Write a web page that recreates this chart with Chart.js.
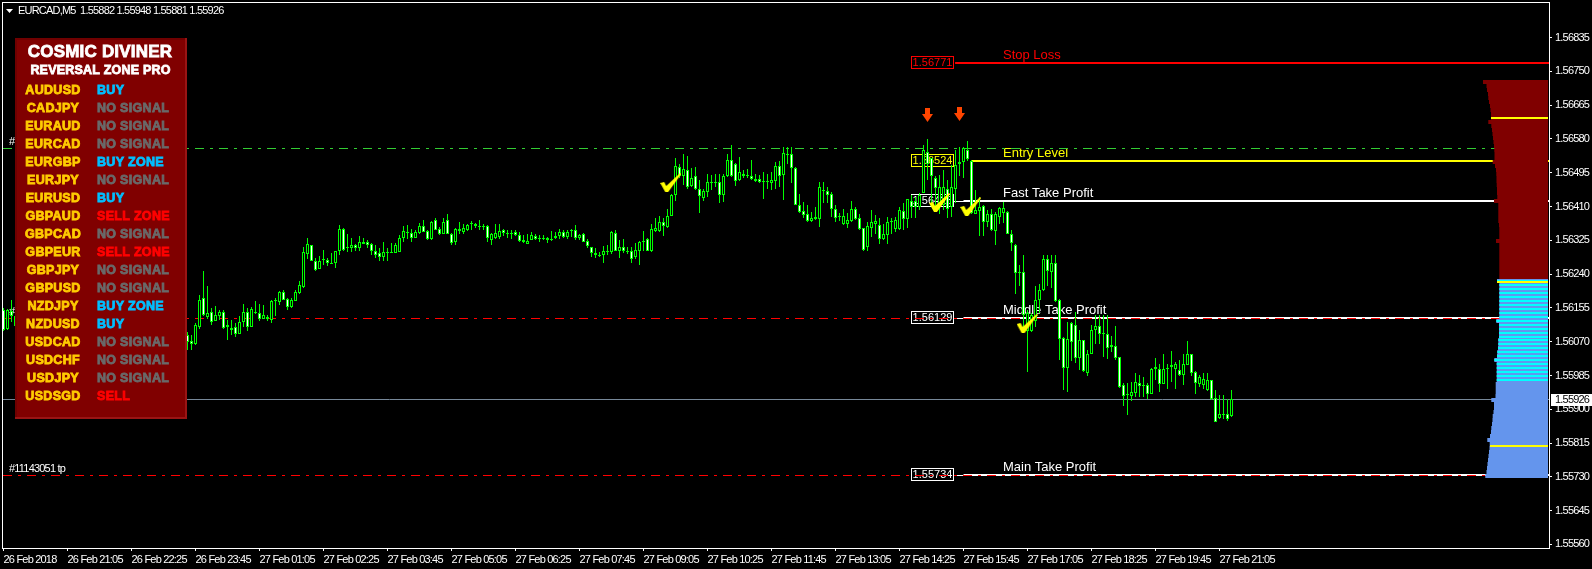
<!DOCTYPE html>
<html>
<head>
<meta charset="utf-8">
<title>EURCAD,M5</title>
<script src="https://cdn.jsdelivr.net/npm/chart.js@4"></script>
<style>
  html, body { margin: 0; padding: 0; background: #000; }
  canvas { display: block; }
</style>
</head>
<body>
<canvas id="myChart" width="1592" height="569"></canvas>
<script>
// bars 4 to 45 sit behind the signal panel, so they stay empty
const hiddenBars = Array(42).fill(null);

const opens = [1.56149,1.56101,1.56147,1.56109, ...hiddenBars,
  1.56088,1.56071,1.56064,1.56108,1.56179,1.56133,1.56144,1.56123,1.56134,1.56144,
  1.56107,1.56100,1.56106,1.56090,1.56120,1.56144,1.56108,1.56141,1.56143,1.56128,
  1.56133,1.56125,1.56175,1.56170,1.56196,1.56177,1.56158,1.56173,1.56193,1.56208,
  1.56290,1.56312,1.56274,1.56253,1.56275,1.56276,1.56268,1.56269,1.56297,1.56353,
  1.56306,1.56306,1.56312,1.56306,1.56322,1.56322,1.56315,1.56299,1.56292,1.56284,
  1.56292,1.56294,1.56293,1.56296,1.56331,1.56345,1.56344,1.56332,1.56343,1.56361,
  1.56349,1.56328,1.56375,1.56354,1.56341,1.56375,1.56342,1.56321,1.56349,1.56347,
  1.56350,1.56365,1.56367,1.56358,1.56360,1.56362,1.56326,1.56331,1.56334,1.56352,
  1.56342,1.56342,1.56345,1.56339,1.56327,1.56316,1.56326,1.56336,1.56330,1.56329,
  1.56332,1.56327,1.56331,1.56336,1.56345,1.56334,1.56348,1.56352,1.56330,1.56342,
  1.56323,1.56307,1.56294,1.56287,1.56287,1.56298,1.56296,1.56344,1.56298,1.56309,
  1.56297,1.56297,1.56282,1.56299,1.56323,1.56329,1.56298,1.56349,1.56349,1.56370,
  1.56359,1.56386,1.56438,1.56510,1.56487,1.56503,1.56462,1.56486,1.56453,1.56432,
  1.56447,1.56468,1.56470,1.56471,1.56440,1.56487,1.56527,1.56517,1.56476,1.56493,
  1.56487,1.56488,1.56479,1.56479,1.56472,1.56472,1.56470,1.56475,1.56513,1.56489,
  1.56539,1.56542,1.56508,1.56415,1.56398,1.56390,1.56373,1.56378,1.56378,1.56449,
  1.56448,1.56441,1.56405,1.56383,1.56366,1.56366,1.56374,1.56405,1.56380,1.56355,
  1.56309,1.56356,1.56367,1.56363,1.56328,1.56339,1.56372,1.56353,1.56353,1.56400,
  1.56378,1.56424,1.56424,1.56408,1.56445,1.56546,1.56531,1.56483,1.56408,1.56415,
  1.56453,1.56409,1.56455,1.56517,1.56523,1.56553,1.56525,1.56392,1.56398,1.56411,
  1.56371,1.56391,1.56349,1.56384,1.56394,1.56397,1.56342,1.56314,1.56243,1.56246,
  1.56097,1.56097,1.56122,1.56174,1.56199,1.56277,1.56246,1.56267,1.56176,1.56080,
  1.56004,1.56116,1.56111,1.56029,1.56073,1.55992,1.56040,1.56100,1.56109,1.56090,
  1.56090,1.56057,1.56060,1.56031,1.55960,1.55937,1.55934,1.55940,1.55967,1.55960,
  1.55960,1.55939,1.56001,1.56002,1.55964,1.56001,1.56006,1.56002,1.56000,1.55986,
  1.56012,1.56038,1.55993,1.55963,1.55960,1.55949,1.55973,1.55929,1.55879,1.55887,1.55887,1.55882];

const highs = [1.56154,1.56152,1.56174,1.56139, ...hiddenBars,
  1.56095,1.56087,1.56116,1.56187,1.56248,1.56210,1.56154,1.56160,1.56149,1.56149,
  1.56124,1.56124,1.56116,1.56134,1.56166,1.56154,1.56158,1.56172,1.56165,1.56162,
  1.56137,1.56175,1.56181,1.56197,1.56201,1.56181,1.56181,1.56200,1.56222,1.56307,
  1.56331,1.56313,1.56280,1.56285,1.56300,1.56281,1.56294,1.56297,1.56363,1.56355,
  1.56341,1.56332,1.56316,1.56336,1.56332,1.56326,1.56317,1.56313,1.56305,1.56320,
  1.56305,1.56317,1.56317,1.56338,1.56360,1.56363,1.56353,1.56352,1.56369,1.56375,
  1.56350,1.56373,1.56380,1.56359,1.56380,1.56391,1.56344,1.56356,1.56370,1.56365,
  1.56367,1.56373,1.56369,1.56375,1.56367,1.56363,1.56344,1.56365,1.56365,1.56354,
  1.56352,1.56350,1.56350,1.56346,1.56338,1.56340,1.56346,1.56342,1.56338,1.56338,
  1.56334,1.56348,1.56346,1.56353,1.56350,1.56352,1.56354,1.56363,1.56342,1.56344,
  1.56328,1.56308,1.56306,1.56296,1.56310,1.56313,1.56348,1.56350,1.56325,1.56328,
  1.56308,1.56308,1.56317,1.56323,1.56348,1.56331,1.56365,1.56380,1.56386,1.56380,
  1.56405,1.56441,1.56531,1.56518,1.56541,1.56537,1.56506,1.56510,1.56476,1.56455,
  1.56493,1.56489,1.56492,1.56493,1.56493,1.56541,1.56566,1.56520,1.56534,1.56502,
  1.56504,1.56528,1.56493,1.56489,1.56496,1.56493,1.56497,1.56523,1.56525,1.56559,
  1.56559,1.56559,1.56509,1.56441,1.56422,1.56414,1.56397,1.56409,1.56472,1.56472,
  1.56458,1.56447,1.56414,1.56393,1.56405,1.56393,1.56424,1.56409,1.56391,1.56356,
  1.56372,1.56401,1.56388,1.56380,1.56365,1.56384,1.56380,1.56384,1.56409,1.56418,
  1.56430,1.56439,1.56435,1.56443,1.56565,1.56581,1.56532,1.56487,1.56489,1.56502,
  1.56476,1.56514,1.56552,1.56559,1.56559,1.56575,1.56527,1.56451,1.56435,1.56414,
  1.56402,1.56405,1.56397,1.56409,1.56422,1.56399,1.56350,1.56315,1.56262,1.56288,
  1.56149,1.56141,1.56210,1.56215,1.56289,1.56288,1.56288,1.56288,1.56178,1.56082,
  1.56120,1.56120,1.56145,1.56099,1.56074,1.56048,1.56111,1.56137,1.56137,1.56137,
  1.56137,1.56084,1.56109,1.56032,1.55965,1.55965,1.55969,1.55992,1.55986,1.55981,
  1.55965,1.56004,1.56030,1.56015,1.56038,1.56015,1.56046,1.56019,1.56023,1.56038,
  1.56071,1.56039,1.55996,1.55985,1.55990,1.55991,1.55974,1.55948,1.55935,1.55935,1.55927,1.55948];

const lows = [1.56096,1.56099,1.56119,1.56096, ...hiddenBars,
  1.56049,1.56049,1.56061,1.56101,1.56134,1.56127,1.56112,1.56122,1.56124,1.56102,
  1.56074,1.56087,1.56082,1.56089,1.56108,1.56097,1.56106,1.56139,1.56123,1.56126,
  1.56123,1.56118,1.56135,1.56162,1.56175,1.56149,1.56156,1.56172,1.56191,1.56205,
  1.56277,1.56273,1.56248,1.56252,1.56263,1.56261,1.56268,1.56256,1.56288,1.56299,
  1.56296,1.56296,1.56299,1.56299,1.56315,1.56305,1.56288,1.56280,1.56274,1.56274,
  1.56274,1.56294,1.56292,1.56296,1.56321,1.56329,1.56321,1.56331,1.56342,1.56346,
  1.56327,1.56327,1.56350,1.56338,1.56340,1.56340,1.56313,1.56313,1.56342,1.56342,
  1.56349,1.56350,1.56357,1.56352,1.56350,1.56321,1.56313,1.56329,1.56329,1.56335,
  1.56332,1.56329,1.56335,1.56321,1.56317,1.56315,1.56325,1.56325,1.56321,1.56325,
  1.56318,1.56324,1.56329,1.56329,1.56331,1.56329,1.56334,1.56325,1.56325,1.56320,
  1.56306,1.56283,1.56280,1.56283,1.56268,1.56287,1.56290,1.56298,1.56281,1.56292,
  1.56290,1.56268,1.56279,1.56262,1.56297,1.56298,1.56296,1.56346,1.56346,1.56335,
  1.56356,1.56385,1.56424,1.56483,1.56464,1.56455,1.56460,1.56451,1.56394,1.56424,
  1.56435,1.56451,1.56460,1.56419,1.56422,1.56485,1.56485,1.56461,1.56475,1.56481,
  1.56481,1.56476,1.56472,1.56468,1.56429,1.56453,1.56451,1.56455,1.56460,1.56426,
  1.56518,1.56468,1.56413,1.56394,1.56380,1.56372,1.56372,1.56376,1.56359,1.56418,
  1.56418,1.56383,1.56372,1.56374,1.56363,1.56357,1.56372,1.56376,1.56351,1.56299,
  1.56298,1.56334,1.56342,1.56315,1.56325,1.56315,1.56342,1.56346,1.56352,1.56351,
  1.56355,1.56380,1.56380,1.56401,1.56443,1.56476,1.56414,1.56405,1.56391,1.56401,
  1.56380,1.56384,1.56418,1.56487,1.56481,1.56524,1.56391,1.56391,1.56336,1.56335,
  1.56359,1.56349,1.56313,1.56366,1.56369,1.56340,1.56298,1.56189,1.56210,1.56095,
  1.55994,1.56095,1.56107,1.56141,1.56198,1.56210,1.56204,1.56170,1.56025,1.55948,
  1.55944,1.56022,1.56017,1.56000,1.55994,1.55983,1.56038,1.56064,1.56065,1.56032,
  1.56027,1.56044,1.56023,1.55954,1.55908,1.55885,1.55921,1.55931,1.55931,1.55931,
  1.55927,1.55938,1.55973,1.55944,1.55963,1.55952,1.55969,1.55950,1.55984,1.55960,
  1.56011,1.55984,1.55938,1.55956,1.55952,1.55946,1.55924,1.55867,1.55876,1.55876,1.55871,1.55881];

const closes = [1.56099,1.56149,1.56134,1.56134, ...hiddenBars,
  1.56070,1.56064,1.56111,1.56176,1.56137,1.56143,1.56120,1.56136,1.56145,1.56105,
  1.56112,1.56104,1.56089,1.56119,1.56144,1.56108,1.56151,1.56144,1.56128,1.56136,
  1.56126,1.56172,1.56176,1.56194,1.56176,1.56158,1.56175,1.56194,1.56212,1.56295,
  1.56315,1.56274,1.56250,1.56274,1.56277,1.56268,1.56269,1.56297,1.56353,1.56300,
  1.56307,1.56312,1.56306,1.56320,1.56316,1.56314,1.56299,1.56288,1.56284,1.56295,
  1.56295,1.56295,1.56312,1.56332,1.56349,1.56346,1.56331,1.56347,1.56361,1.56347,
  1.56328,1.56372,1.56352,1.56340,1.56372,1.56341,1.56318,1.56354,1.56353,1.56355,
  1.56363,1.56368,1.56360,1.56360,1.56362,1.56331,1.56342,1.56343,1.56349,1.56344,
  1.56343,1.56343,1.56339,1.56323,1.56321,1.56324,1.56339,1.56328,1.56332,1.56332,
  1.56326,1.56329,1.56337,1.56345,1.56333,1.56345,1.56350,1.56331,1.56339,1.56321,
  1.56311,1.56293,1.56288,1.56289,1.56297,1.56299,1.56345,1.56299,1.56307,1.56297,
  1.56298,1.56278,1.56300,1.56322,1.56324,1.56299,1.56354,1.56357,1.56372,1.56360,
  1.56387,1.56440,1.56511,1.56487,1.56505,1.56460,1.56482,1.56453,1.56437,1.56448,
  1.56471,1.56471,1.56471,1.56439,1.56487,1.56527,1.56487,1.56475,1.56496,1.56488,
  1.56489,1.56478,1.56474,1.56472,1.56474,1.56474,1.56476,1.56513,1.56488,1.56544,
  1.56542,1.56508,1.56414,1.56397,1.56389,1.56373,1.56380,1.56383,1.56458,1.56451,
  1.56440,1.56404,1.56382,1.56385,1.56387,1.56377,1.56403,1.56378,1.56353,1.56300,
  1.56361,1.56372,1.56374,1.56328,1.56340,1.56372,1.56374,1.56376,1.56401,1.56379,
  1.56428,1.56409,1.56409,1.56438,1.56552,1.56518,1.56487,1.56457,1.56458,1.56458,
  1.56405,1.56458,1.56514,1.56523,1.56556,1.56529,1.56394,1.56401,1.56410,1.56371,
  1.56391,1.56350,1.56391,1.56406,1.56406,1.56342,1.56317,1.56243,1.56246,1.56137,
  1.56141,1.56137,1.56176,1.56199,1.56278,1.56247,1.56269,1.56173,1.56078,1.56004,
  1.56076,1.56069,1.56029,1.56075,1.55996,1.56040,1.56099,1.56109,1.56090,1.56091,
  1.56054,1.56061,1.56029,1.55956,1.55934,1.55939,1.55944,1.55968,1.55959,1.55962,
  1.55939,1.56002,1.56007,1.55964,1.56001,1.56004,1.56012,1.56015,1.55985,1.56013,
  1.56038,1.55990,1.55966,1.55980,1.55975,1.55973,1.55925,1.55868,1.55889,1.55889,1.55876,1.55926];

const xTickLabels = ['26 Feb 2018','26 Feb 21:05','26 Feb 22:25','26 Feb 23:45','27 Feb 01:05','27 Feb 02:25','27 Feb 03:45',
  '27 Feb 05:05','27 Feb 06:25','27 Feb 07:45','27 Feb 09:05','27 Feb 10:25','27 Feb 11:45','27 Feb 13:05',
  '27 Feb 14:25','27 Feb 15:45','27 Feb 17:05','27 Feb 18:25','27 Feb 19:45','27 Feb 21:05'];
const xTickBars = [0,16,32,48,64,80,96,112,128,144,160,176,192,208,224,240,256,272,288,304];
const yTicks = [1.56835,1.5675,1.56665,1.5658,1.56495,1.5641,1.56325,1.5624,1.56155,1.5607,1.55985,1.559,1.55815,1.5573,1.55645,1.5556];

const levelLabels = ['Stop Loss','Entry Level','Fast Take Profit','Middle Take Profit','Main Take Profit'];
const levelPrices = [1.56771,1.56524,1.56425,1.56129,1.55734];
const levelStartBars = [237.9,242,240,240,240];
const slOrderPrice = 1.56558;
const bidPrice = 1.55926;

const checkBars = [166.8,234,241.8,255.9];
const checkPrices = [1.5647,1.56418,1.5641,1.56115];
const arrowBars = [231,239];
const arrowPrices = [1.56639,1.56642];

// volume at price, top row first
const profileLevels = [1.56723,1.56713,1.56703,1.56693,1.56683,1.56673,1.56663,1.56653,1.56643,1.56633,
  1.56623,1.56613,1.56603,1.56593,1.56583,1.56573,1.56563,1.56553,1.56543,1.56533,
  1.56523,1.56513,1.56503,1.56493,1.56483,1.56473,1.56463,1.56453,1.56443,1.56433,
  1.56423,1.56413,1.56403,1.56393,1.56383,1.56373,1.56363,1.56353,1.56343,1.56333,
  1.56323,1.56313,1.56303,1.56293,1.56283,1.56273,1.56263,1.56253,1.56243,1.56233,
  1.56223,1.56213,1.56203,1.56193,1.56183,1.56173,1.56163,1.56153,1.56143,1.56133,
  1.56123,1.56113,1.56103,1.56093,1.56083,1.56073,1.56063,1.56053,1.56043,1.56033,
  1.56023,1.56013,1.56003,1.55993,1.55983,1.55973,
  1.55963,1.55953,1.55943,1.55933,1.55923,1.55913,1.55903,1.55893,1.55883,1.55873,
  1.55863,1.55853,1.55843,1.55833,1.55823,1.55813,1.55803,1.55793,1.55783,1.55773,
  1.55763,1.55753,1.55743,1.55733];
const profileVolumes = [66,62.5,62,61,60.7,60,59,58.5,58,58,
  60.7,57.7,57,56.5,56,55.5,55,54.7,54.5,54.5,
  56.3,54,53,52.7,52.5,52.5,52.3,52,52,51.7,
  55,50.7,50.7,50.7,50.7,50.7,50,49.7,49.7,49.7,
  53,49.7,49.7,49.7,49.7,49.7,49.7,49.7,49.7,49.7,
  52,49.7,49.7,49.7,49.7,49.7,49.7,49.7,49.7,49.7,
  52.7,50,50,50,50,50.7,50.7,51,51.7,52,
  54.7,52.3,52.3,52.3,52.3,52.3,
  53.3,53.3,53.3,53.5,57.7,55,55,55.5,56.3,56.5,
  57,57.7,58,59,61.7,59.3,59.5,60,60.5,61,
  61.5,62,62.5,63.7];
const profileSellRows = 50;
const profileMidRows = 26;
const profilePeakPrices = [1.56633,1.5622,1.55808];
const profilePeakVolumes = [58,52,59];

const pairs = ['AUDUSD','CADJPY','EURAUD','EURCAD','EURGBP','EURJPY','EURUSD','GBPAUD','GBPCAD','GBPEUR','GBPJPY','GBPUSD','NZDJPY','NZDUSD','USDCAD','USDCHF','USDJPY','USDSGD'];
const signals = ['BUY','NO SIGNAL','NO SIGNAL','NO SIGNAL','BUY ZONE','NO SIGNAL','BUY','SELL ZONE','NO SIGNAL','SELL ZONE','NO SIGNAL','NO SIGNAL','BUY ZONE','BUY','NO SIGNAL','NO SIGNAL','NO SIGNAL','SELL'];

const barMin = -0.125;
const barMax = 386.375;
const SANS = '"Liberation Sans", sans-serif';
const signalColors = { 'BUY': '#00bfff', 'BUY ZONE': '#00bfff', 'SELL': '#ff0000', 'SELL ZONE': '#ff0000', 'NO SIGNAL': '#696969' };
const levelColors = ['#ff0000', '#ffff00', '#ffffff', '#ffffff', '#ffffff'];

function makeMarker(w, h, color, path) {
  const c = document.createElement('canvas');
  c.width = w;
  c.height = h;
  const g = c.getContext('2d');
  g.fillStyle = color;
  g.beginPath();
  path.forEach((p, i) => i ? g.lineTo(p[0], p[1]) : g.moveTo(p[0], p[1]));
  g.closePath();
  g.fill();
  return c;
}
const checkMark = makeMarker(21, 20, '#ffff00', [[0,10],[4,9],[6,13],[20,0],[21,1],[8,19],[5,19]]);
const arrowMark = makeMarker(11, 14, '#ff4500', [[3,0],[8,0],[8,6],[11,6],[5.5,14],[0,6],[3,6]]);

function hline(price, startBar, color, width, dash, order) {
  return {
    type: 'line',
    data: [{ x: startBar, y: price }, { x: barMax, y: price }],
    borderColor: color,
    borderWidth: width,
    borderDash: dash || [],
    pointRadius: 0,
    order: order
  };
}

const candleBars = opens.map((o, i) => i).filter(i => opens[i] !== null);
const DASHDOT = [9, 6, 3, 6];

const datasets = [];
// thick level lines with the thin stub coming out of the price box
levelPrices.forEach((p, i) => {
  if (i >= 2) datasets.push(hline(p, 237.5, '#ffffff', 1, null, 13));
  datasets.push(hline(p, levelStartBars[i], levelColors[i], 2, null, 12));
});
datasets.push(hline(slOrderPrice, barMin, '#32cd32', 1, DASHDOT, 11));
datasets.push(hline(levelPrices[3], barMin, '#ff0000', 1, DASHDOT, 11));
datasets.push(hline(levelPrices[4], barMin, '#ff0000', 1, DASHDOT, 11));
datasets.push(hline(bidPrice, barMin, '#778899', 1, null, 11));

datasets.push({
  label: 'wicks',
  data: candleBars.map(i => ({ x: i, y: [lows[i], highs[i]] })),
  backgroundColor: '#00ff00',
  borderWidth: 0,
  barThickness: 1,
  grouped: false,
  inflateAmount: 0,
  order: 6
});
datasets.push({
  label: 'bodies',
  data: candleBars.map(i => ({ x: i, y: [opens[i], closes[i]] })),
  backgroundColor: candleBars.map(i => closes[i] < opens[i] ? '#ffffff' : '#000000'),
  borderColor: '#00ff00',
  borderWidth: 1,
  borderSkipped: false,
  barThickness: 3,
  grouped: false,
  inflateAmount: 0,
  order: 5
});

function profileRows(from, to) {
  const rows = [];
  for (let i = from; i < to; i++) {
    rows.push({ x: profileVolumes[i], y: profileLevels[i] }, { x: 1, y: profileLevels[i] }, { x: 1, y: null });
  }
  return rows;
}
function profileSet(rows, color, width, order) {
  return { type: 'line', xAxisID: 'xv', data: rows, borderColor: color, borderWidth: width, pointRadius: 0, borderCapStyle: 'butt', order: order };
}
datasets.push(profileSet(profileRows(0, profileSellRows), '#800000', 4, 4));
datasets.push(profileSet(profileRows(profileSellRows, profileSellRows + profileMidRows), '#6495ed', 4, 4));
datasets.push(profileSet(profileRows(profileSellRows, profileSellRows + profileMidRows), '#00ffff', 2, 3));
datasets.push(profileSet(profileRows(profileSellRows + profileMidRows, profileLevels.length), '#6495ed', 4, 4));
profilePeakPrices.forEach((p, i) => {
  datasets.push(profileSet([{ x: profilePeakVolumes[i], y: p }, { x: 1, y: p }], '#ffff00', 2, 2));
});

datasets.push({
  type: 'line',
  data: checkBars.map((b, i) => ({ x: b, y: checkPrices[i] })),
  showLine: false,
  pointStyle: checkMark,
  pointRadius: 10,
  order: 1
});
datasets.push({
  type: 'line',
  data: arrowBars.map((b, i) => ({ x: b, y: arrowPrices[i] })),
  showLine: false,
  pointStyle: arrowMark,
  pointRadius: 7,
  order: 1
});

// MT4 draws on whole pixels, so push the computed positions onto the grid
const snapToPixels = {
  id: 'snapToPixels',
  afterDatasetsUpdate(chart) {
    chart.getSortedVisibleDatasetMetas().forEach(meta => {
      if (meta.type === 'bar') {
        meta.data.forEach(el => {
          const top = Math.round(Math.min(el.y, el.base));
          let bottom = Math.round(Math.max(el.y, el.base));
          if (bottom === top) bottom = top + 1;
          el.y = top;
          el.base = bottom;
        });
      } else {
        const w = chart.data.datasets[meta.index].borderWidth;
        meta.data.forEach(el => {
          if (!el.skip) el.y = Math.round(el.y) + (w % 2 ? 0.5 : 0);
        });
      }
    });
  }
};

// the platform font is narrower than anything installed, so tighten the tracking
const TIGHT = '-0.8px';

const overlay = {
  id: 'overlay',
  beforeDraw(chart) {
    chart.ctx.letterSpacing = TIGHT;
  },
  beforeDatasetsDraw(chart) {
    const { ctx, scales, chartArea: a } = chart;
    ctx.save();
    ctx.strokeStyle = '#ffffff';
    ctx.lineWidth = 1;
    ctx.strokeRect(a.left - 0.5, a.top - 0.5, a.right - a.left + 1, a.bottom - a.top + 1);

    ctx.textBaseline = 'middle';
    ctx.letterSpacing = '0px';
    levelPrices.forEach((p, i) => {
      const y = Math.round(scales.y.getPixelForValue(p));
      ctx.strokeStyle = levelColors[i];
      ctx.strokeRect(911.5, y - 6.5, 42, 12);
      ctx.fillStyle = levelColors[i];
      ctx.font = '11px ' + SANS;
      ctx.textAlign = 'center';
      ctx.fillText(p.toFixed(5), 932.5, y);
      ctx.font = '13px ' + SANS;
      ctx.textAlign = 'left';
      ctx.fillText(levelLabels[i], 1003, y - 8);
    });

    ctx.fillStyle = '#ffffff';
    ctx.letterSpacing = TIGHT;
    ctx.font = '11px ' + SANS;
    ctx.fillText('#', 9, scales.y.getPixelForValue(slOrderPrice) - 6);
    ctx.fillText('#', 9, scales.y.getPixelForValue(levelPrices[3]) - 6);
    ctx.fillText('#11143051 tp', 9, scales.y.getPixelForValue(levelPrices[4]) - 6);
    ctx.restore();
  },
  afterDatasetsDraw(chart) {
    const { ctx } = chart;
    ctx.save();
    // signal panel
    ctx.fillStyle = '#9a1414';
    ctx.fillRect(15, 38, 172, 381);
    ctx.fillStyle = '#700000';
    ctx.fillRect(15, 38, 170, 379);
    ctx.fillStyle = '#800000';
    ctx.fillRect(17, 40, 168, 377);

    const label = (text, x, y, font, color, align) => {
      ctx.font = font;
      ctx.textAlign = align;
      ctx.fillStyle = color;
      ctx.strokeStyle = color;
      ctx.lineWidth = 0.8;
      ctx.strokeText(text, x, y);
      ctx.fillText(text, x, y);
    };
    ctx.textBaseline = 'middle';
    ctx.letterSpacing = '0.2px';
    label('COSMIC DIVINER', 100, 52.5, 'bold 17px ' + SANS, '#ffffff', 'center');
    label('REVERSAL ZONE PRO', 100.5, 70.5, 'bold 12.5px ' + SANS, '#ffffff', 'center');
    ctx.letterSpacing = '0.3px';
    pairs.forEach((pair, i) => {
      const y = 90.5 + i * 18;
      label(pair, 53, y, 'bold 12.5px ' + SANS, '#ffcc00', 'center');
      label(signals[i], 97, y, 'bold 12.5px ' + SANS, signalColors[signals[i]], 'left');
    });

    // window title
    ctx.fillStyle = '#ffffff';
    ctx.beginPath();
    ctx.moveTo(6, 9);
    ctx.lineTo(13, 9);
    ctx.lineTo(9.5, 13);
    ctx.closePath();
    ctx.fill();
    ctx.letterSpacing = TIGHT;
    ctx.font = '11px ' + SANS;
    ctx.textAlign = 'left';
    ctx.fillText('EURCAD,M5  1.55882 1.55948 1.55881 1.55926', 18, 11);
    ctx.restore();
  },
  afterDraw(chart) {
    const { ctx, scales } = chart;
    const y = Math.round(scales.y.getPixelForValue(bidPrice));
    ctx.save();
    ctx.fillStyle = '#ffffff';
    ctx.fillRect(1551, y - 5, 41, 12);
    ctx.fillStyle = '#000000';
    ctx.font = '11px ' + SANS;
    ctx.textAlign = 'left';
    ctx.textBaseline = 'middle';
    ctx.fillText(bidPrice.toFixed(5), 1555, y + 1);
    ctx.restore();
  }
};

const myChart = new Chart(document.getElementById('myChart').getContext('2d'), {
  type: 'bar',
  data: { datasets: datasets },
  plugins: [snapToPixels, overlay],
  options: {
    responsive: false,
    animation: false,
    events: [],
    layout: { autoPadding: false, padding: { left: 3, top: 3, right: 0, bottom: 0 } },
    plugins: { legend: { display: false }, tooltip: { enabled: false } },
    scales: {
      x: {
        type: 'linear',
        offset: false,
        min: barMin,
        max: barMax,
        afterFit(axis) { axis.height = 21; axis.paddingLeft = 0; axis.paddingRight = 0; },
        afterBuildTicks(axis) { axis.ticks = xTickBars.map(v => ({ value: v })); },
        grid: { offset: false, drawOnChartArea: false, tickLength: 3, tickColor: '#ffffff' },
        border: { display: false },
        ticks: {
          color: '#ffffff',
          align: 'start',
          autoSkip: false,
          maxRotation: 0,
          padding: 2,
          font: { family: SANS, size: 11 },
          callback: (value, index) => xTickLabels[index]
        }
      },
      xv: {
        type: 'linear',
        display: false,
        offset: false,
        reverse: true,
        min: 0,
        max: 1546
      },
      y: {
        type: 'linear',
        position: 'right',
        min: 1.55551,
        max: 1.56922,
        afterFit(axis) { axis.width = 43; axis.paddingTop = 0; axis.paddingBottom = 0; },
        afterBuildTicks(axis) { axis.ticks = yTicks.map(v => ({ value: v })); },
        grid: { drawOnChartArea: false, tickLength: 3, tickColor: '#ffffff' },
        border: { display: false },
        ticks: {
          color: '#ffffff',
          autoSkip: false,
          padding: 3,
          font: { family: SANS, size: 11 },
          callback: value => value.toFixed(5)
        }
      }
    }
  }
});
</script>
</body>
</html>
